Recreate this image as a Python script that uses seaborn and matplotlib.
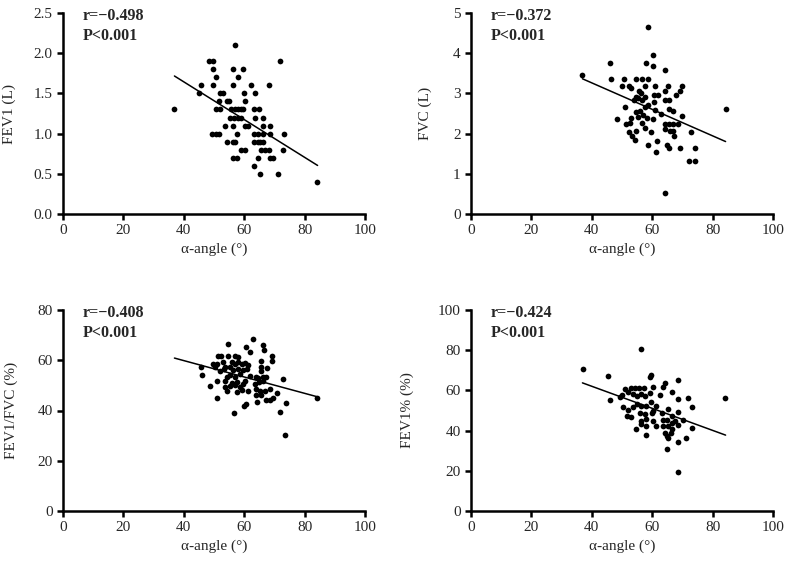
import numpy as np
import pandas as pd
import seaborn as sns
import matplotlib.pyplot as plt

# ---- data ----
# panel A: FEV1 (L)
angle_fev1 = [56.9,
              48.3, 49.7, 71.9,
              49.7, 56.2, 59.6,
              50.7, 58.0,
              45.6, 49.7, 56.2, 62.3, 68.3,
              36.9,
              45.0, 51.9, 53.0, 60.0, 63.6,
              51.5, 54.3, 55.1, 60.2,
              50.7, 51.9, 55.7, 56.8, 57.9, 58.9, 59.7, 63.4, 65.0,
              55.3, 56.6, 58.0, 59.1, 63.7, 66.3,
              53.8, 56.2, 60.2, 61.3, 66.1, 68.5,
              49.4, 50.5, 51.5, 57.5, 63.4, 64.5, 66.1, 68.5, 73.1,
              54.2, 56.2, 56.9, 63.4, 64.5, 65.3, 66.1,
              59.0, 60.2, 65.6, 67.0, 68.3, 72.7,
              56.2, 57.5, 64.5, 68.5, 69.5,
              63.4,
              65.1, 71.3,
              84.0]
fev1 = [2.1,
        1.9, 1.9, 1.9,
        1.8, 1.8, 1.8,
        1.7, 1.7,
        1.6, 1.6, 1.6, 1.6, 1.6,
        1.3,
        1.5, 1.5, 1.5, 1.5, 1.5,
        1.4, 1.4, 1.4, 1.4,
        1.3, 1.3, 1.3, 1.3, 1.3, 1.3, 1.3, 1.3, 1.3,
        1.2, 1.2, 1.2, 1.2, 1.2, 1.2,
        1.1, 1.1, 1.1, 1.1, 1.1, 1.1,
        1.0, 1.0, 1.0, 1.0, 1.0, 1.0, 1.0, 1.0, 1.0,
        0.9, 0.9, 0.9, 0.9, 0.9, 0.9, 0.9,
        0.8, 0.8, 0.8, 0.8, 0.8, 0.8,
        0.7, 0.7, 0.7, 0.7, 0.7,
        0.6,
        0.5, 0.5,
        0.4]

# panel B: FVC (L)
angle_fvc = [58.6, 60.1, 45.9, 57.8, 60.1, 36.9, 64.1,
             46.2, 50.6, 54.8, 56.7, 58.6,
             50.0, 52.2, 52.9, 57.6, 60.8, 65.2, 69.8,
             55.5, 56.2, 54.6, 60.5, 61.9, 64.1, 67.8, 69.2,
             54.1, 55.2, 56.5, 57.6, 60.5, 64.1, 65.6,
             51.0, 57.6, 58.6, 61.0, 65.5, 66.8,
             54.6, 56.0, 56.8, 63.0, 69.8,
             53.0, 55.4, 58.3, 48.5, 60.1,
             51.4, 52.5, 56.5, 57.6,
             64.1, 65.5, 66.8, 64.4, 65.9, 67.0, 68.4, 72.8,
             52.4, 54.6, 59.7, 53.3, 54.3,
             67.3, 61.7, 58.6, 64.8, 65.6, 69.3, 74.1,
             61.4, 72.3, 74.1, 64.4, 84.3]
fvc = [4.65, 3.95, 3.75, 3.75, 3.68, 3.45, 3.58,
       3.37, 3.37, 3.37, 3.37, 3.37,
       3.19, 3.19, 3.14, 3.19, 3.19, 3.19, 3.19,
       3.06, 3.00, 2.92, 2.96, 2.96, 3.06, 2.96, 3.06,
       2.84, 2.88, 2.84, 2.92, 2.78, 2.84, 2.84,
       2.65, 2.67, 2.70, 2.58, 2.61, 2.57,
       2.53, 2.55, 2.47, 2.48, 2.45,
       2.38, 2.41, 2.38, 2.36, 2.36,
       2.25, 2.27, 2.27, 2.15,
       2.24, 2.24, 2.24, 2.12, 2.07, 2.07, 2.24, 2.04,
       2.04, 2.06, 2.04, 1.93, 1.84,
       1.93, 1.82, 1.72, 1.72, 1.63, 1.63, 1.63,
       1.55, 1.32, 1.32, 0.51, 2.62]

# panel C: FEV1/FVC (%)
angle_ratio = [45.6, 45.9, 48.7, 50.9, 49.8, 50.3, 50.9, 51.4, 52.2, 54.6,
               54.8, 56.9, 58.0, 53.1, 53.7, 52.0, 53.3, 55.9, 56.9, 58.0,
               59.2, 60.3, 61.3, 55.3, 56.4, 58.0, 59.7, 61.0, 54.3, 55.3,
               56.9, 58.7, 50.9, 53.7, 55.9, 57.5, 59.5, 60.3, 53.7, 55.3,
               56.9, 58.7, 54.3, 57.5, 59.2, 61.3, 62.8, 60.6, 61.9, 66.1,
               66.5, 69.2, 69.2, 65.7, 65.5, 65.5, 67.7, 61.9, 63.9, 64.7,
               66.1, 67.2, 63.5, 65.0, 66.3, 63.9, 65.2, 66.8, 68.5, 63.9,
               65.4, 67.2, 68.5, 69.4, 70.8, 72.7, 64.3, 60.6, 59.9, 56.7,
               73.8, 71.9, 73.5, 84.0]
ratio = [57.4, 54.3, 49.9, 45.0, 58.5, 57.2, 58.5, 61.8, 61.8, 66.4,
         61.6, 61.6, 61.2, 59.2, 57.2, 55.8, 56.5, 59.2, 58.5, 59.2,
         58.5, 58.8, 58.2, 57.2, 56.1, 56.5, 56.1, 56.5, 53.5, 54.3,
         53.5, 54.6, 51.9, 51.6, 50.9, 51.3, 50.4, 51.9, 49.3, 49.9,
         50.3, 49.3, 47.6, 47.4, 48.0, 47.7, 68.4, 65.1, 63.1, 66.1,
         64.0, 61.8, 59.6, 59.6, 57.2, 55.9, 57.0, 53.9, 53.2, 53.0,
         53.2, 53.5, 50.6, 51.3, 51.6, 48.5, 47.6, 47.9, 48.5, 46.3,
         46.0, 44.0, 44.3, 45.0, 46.8, 52.5, 43.3, 42.6, 41.6, 38.9,
         42.9, 39.3, 30.1, 45.0]

# panel D: FEV1% (%)
angle_pct = [37.0, 56.2, 45.5, 59.5, 59.2, 68.4, 64.4, 84.0, 45.9,
             49.2, 50.0, 51.1, 52.9, 54.4, 55.5, 57.3,
             52.0, 53.7, 55.1, 56.4, 57.5, 59.2, 60.3, 62.5, 63.6, 66.4, 68.6, 71.9, 73.1,
             50.3, 52.0, 53.7, 55.1, 56.4, 58.1, 59.5, 61.4,
             51.8, 52.9, 55.9, 57.5, 59.8, 60.3, 63.1, 65.3, 66.4, 68.6, 70.3,
             56.4, 58.1, 60.3, 63.6, 64.8, 66.4, 67.5, 68.6, 73.1,
             54.8, 56.4, 58.1, 61.1, 63.6, 65.3, 66.4,
             58.1, 64.2, 64.8, 65.3, 66.2, 68.6, 71.1, 64.8, 68.6]
pct = [70.4, 80.8, 67.1, 67.7, 66.5, 65.2, 63.6, 56.2, 55.4,
       56.6, 57.5, 60.5, 61.2, 61.2, 61.2, 61.2,
       59.2, 58.2, 57.1, 58.2, 57.1, 58.7, 61.5, 57.5, 61.5, 59.2, 55.9, 56.2, 51.5,
       51.5, 50.3, 51.5, 53.2, 52.1, 52.4, 54.4, 52.1,
       47.3, 47.0, 48.9, 48.1, 48.6, 49.8, 48.9, 50.8, 47.5, 49.1, 45.1,
       44.8, 45.9, 44.8, 45.1, 45.4, 43.8, 44.6, 43.0, 41.4,
       41.0, 43.2, 42.1, 42.4, 42.4, 42.1, 40.7,
       37.6, 38.6, 37.3, 36.4, 38.9, 34.3, 36.4, 30.6, 19.2]

panels = [
    (angle_fev1, fev1, "FEV1 (L)", 2.5, 0.5, "r=−0.498"),
    (angle_fvc, fvc, "FVC (L)", 5, 1, "r=−0.372"),
    (angle_ratio, ratio, "FEV1/FVC (%)", 80, 20, "r=−0.408"),
    (angle_pct, pct, "FEV1% (%)", 100, 20, "r=−0.424"),
]

# whole-cohort alpha-angle range, used for the fitted lines
all_angles = angle_fev1 + angle_fvc + angle_ratio + angle_pct
angle_lo, angle_hi = min(all_angles), max(all_angles)

sns.set_theme(style="ticks")
plt.rcParams["font.family"] = ["Liberation Serif", "DejaVu Serif"]
plt.rcParams["font.size"] = 11

W, H = 793, 575
fig = plt.figure(figsize=(W / 100, H / 100), dpi=100)

lefts = [63, 471, 63, 471]
tops = [13, 13, 310, 310]
aw, ah = 302, 201
ylabel_x = [-0.157, -0.13, -0.15, -0.19]

for i, (xs, ys, ylab, ymax, ystep, rtxt) in enumerate(panels):
    ax = fig.add_axes([lefts[i] / W, 1 - (tops[i] + ah) / H, aw / W, ah / H])
    df = pd.DataFrame({"angle": xs, "val": ys})
    ax.set_xlim(angle_lo, angle_hi)
    sns.regplot(data=df, x="angle", y="val", ax=ax, ci=None, truncate=False,
                scatter_kws=dict(s=17, color="black", linewidths=0, alpha=1),
                line_kws=dict(color="black", lw=1.1))
    ax.set_xlim(0, 100)
    ax.set_ylim(0, ymax)
    ax.set_xticks(np.arange(0, 101, 20))
    yt = np.arange(0, ymax + ystep / 2, ystep)
    ax.set_yticks(yt)
    if ystep < 1:
        ax.set_yticklabels([f"{v:.1f}" for v in yt])
    sns.despine(ax=ax)
    for side in ["left", "bottom"]:
        ax.spines[side].set_linewidth(1.8)
        ax.spines[side].set_color("black")
    ax.tick_params(length=4.5, width=1.8, color="black", labelsize=11, pad=3)
    ax.set_xlabel("α-angle (°)", fontsize=11)
    ax.set_ylabel(ylab, fontsize=11)
    ax.xaxis.set_label_coords(0.5, -0.14)
    ax.yaxis.set_label_coords(ylabel_x[i], 0.5)
    ax.text(0.066, 0.985, rtxt, transform=ax.transAxes, fontsize=11.5,
            fontweight="bold", va="center", ha="left")
    ax.text(0.066, 0.885, "P<0.001", transform=ax.transAxes, fontsize=11.5,
            fontweight="bold", va="center", ha="left")

fig.savefig("out.png", dpi=100)
